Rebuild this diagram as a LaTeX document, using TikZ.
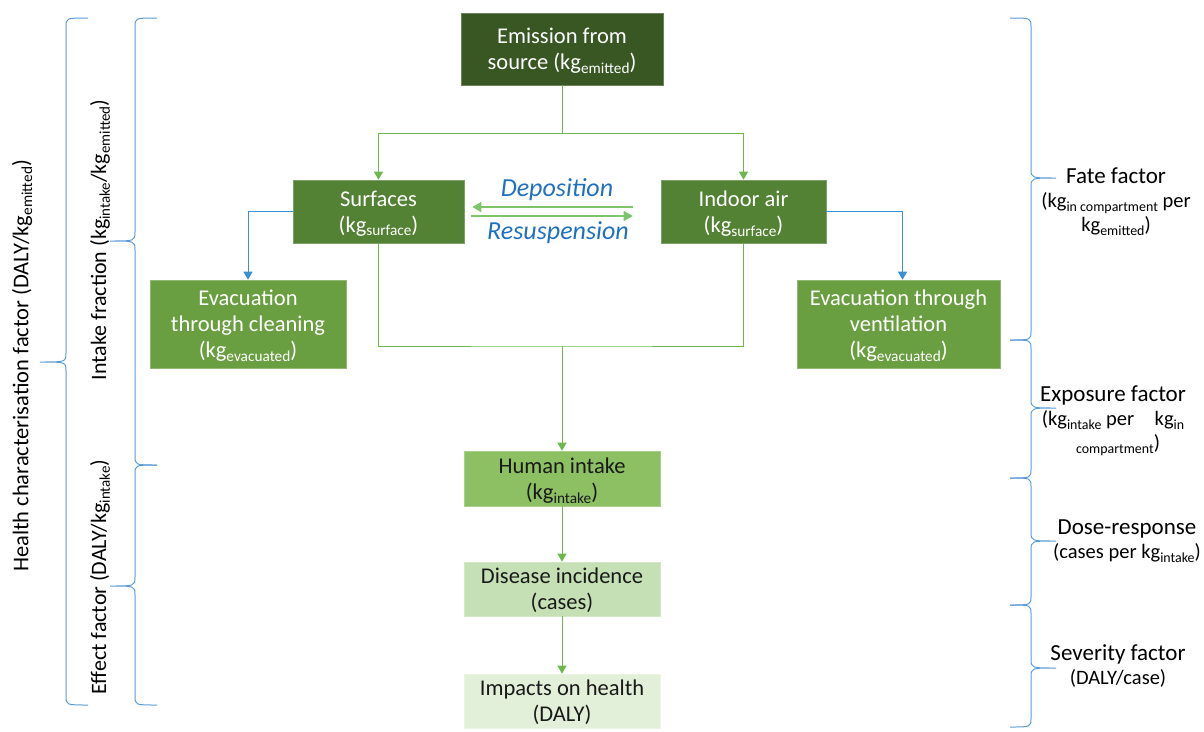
\documentclass[tikz,border=0pt]{standalone}
\usepackage{fontspec}
\setmainfont{Carlito}
\usetikzlibrary{arrows.meta}
\newcommand{\sub}[1]{\raisebox{-0.35ex}{\scalebox{0.68}{#1}}}
\definecolor{cEmis}{HTML}{385723}
\definecolor{cSurf}{HTML}{548235}
\definecolor{cEvac}{HTML}{6A9F41}
\definecolor{cHum}{HTML}{8CC063}
\definecolor{cDis}{HTML}{C5E0B4}
\definecolor{cImp}{HTML}{E2F0D9}
\definecolor{cGline}{HTML}{6DB84C}
\definecolor{cDep}{HTML}{7DC46A}
\definecolor{cBlue}{HTML}{3A90D0}
\definecolor{cBrace}{HTML}{5B9BD5}
\definecolor{cText}{HTML}{1F70C1}
\newcommand{\brc}[6]{%
  \draw[brace] (#1,#4) .. controls (#2,#4) .. (#2,#4+9) -- (#2,#5-9)
    .. controls (#2,#5) .. (#3,#5) .. controls (#2,#5) .. (#2,#5+9)
    -- (#2,#6-9) .. controls (#2,#6) .. (#1,#6);}
\begin{document}
\begin{tikzpicture}[x=1pt,y=-1pt,
  box/.style={fill=#1, draw=#1!75!white, line width=0.6pt, inner sep=0pt,
    align=center, text depth=0pt, font=\fontsize{22.5}{26}\selectfont},
  wbox/.style={box=#1, text=white},
  kbox/.style={box=#1, text=black!90},
  gline/.style={draw=cGline, line width=0.9pt},
  garrow/.style={gline, -{Triangle[width=9pt,length=8pt]}},
  barrow/.style={draw=cBlue, line width=0.9pt, -{Triangle[width=9pt,length=8pt]}},
  deparrow/.style={draw=cDep, line width=1.1pt, -{Triangle[width=10pt,length=9pt]}},
  brace/.style={draw=cBrace, line width=1pt},
  sidelab/.style={align=center, font=\fontsize{20.5}{24}\selectfont, inner sep=0pt},
  sidehead/.style={font=\fontsize{23}{25}\selectfont},
  rotlab/.style={rotate=90, font=\fontsize{22}{24}\selectfont, inner sep=0pt},
  flow/.style={text=cText, font=\fontsize{26}{28}\selectfont\itshape, inner sep=0pt}
]
\useasboundingbox (0,0) rectangle (1204,731);

% boxes
\node[wbox=cEmis, minimum width=202pt, minimum height=72pt] (emis) at (562,49)
  {Emission from\\source (kg\sub{emitted})};
\node[wbox=cSurf, minimum width=171pt, minimum height=63pt] (surf) at (378.5,211.5)
  {Surfaces\\(kg\sub{surface})};
\node[wbox=cSurf, minimum width=165pt, minimum height=63pt] (air) at (743.5,211.5)
  {Indoor air\\(kg\sub{surface})};
\node[wbox=cEvac, minimum width=196pt, minimum height=88pt] (evc) at (248,324)
  {Evacuation\\through cleaning\\(kg\sub{evacuated})};
\node[wbox=cEvac, minimum width=203pt, minimum height=88pt] (evv) at (898.5,324)
  {Evacuation through\\ventilation\\(kg\sub{evacuated})};
\node[kbox=cHum, minimum width=196pt, minimum height=55pt] (hum) at (562,478.5)
  {Human intake\\(kg\sub{intake})};
\node[kbox=cDis, minimum width=196pt, minimum height=54pt] (dis) at (562,589)
  {Disease incidence\\(cases)};
\node[kbox=cImp, minimum width=196pt, minimum height=54pt] (imp) at (562,701)
  {Impacts on health\\(DALY)};

% junctions
\coordinate (j1) at (562,133);
\coordinate (j2) at (562,346);

% connectors
\draw[gline] (emis.south) -- (j1);
\draw[garrow] (j1) -| (surf.north);
\draw[garrow] (j1) -| (air.north);
\draw[gline] (surf.south) |- (j2) -| (air.south);
\draw[garrow] (j2) -- (hum.north);
\draw[garrow] (hum.south) -- (dis.north);
\draw[garrow] (dis.south) -- (imp.north);
\draw[barrow] (surf.west) -| (evc.north);
\draw[barrow] (air.east) -| ([xshift=4pt]evv.north);

% deposition / resuspension
\draw[deparrow, shorten <=28pt, shorten >=8pt] ([yshift=4.5pt]air.west) -- ([yshift=4.5pt]surf.east);
\draw[deparrow, shorten <=7pt, shorten >=28pt] ([yshift=-4.5pt]surf.east) -- ([yshift=-4.5pt]air.west);
\node[flow] (dep) at (557,190) {Deposition};
\node[flow] (res) at (558,233) {Resuspension};

% left braces
\brc{88}{66}{40}{18}{362}{705}
\brc{157}{135}{110}{18}{241}{465}
\brc{157}{135}{110}{465}{586}{705}
\node[rotlab, font=\fontsize{22.5}{24}\selectfont] (lhealth) at (22,366) {Health characterisation factor (DALY/kg\sub{emitted})};
\node[rotlab] (lintake) at (100,240) {Intake fraction (kg\sub{intake}/kg\sub{emitted})};
\node[rotlab] (leffect) at (100,577) {Effect factor (DALY/kg\sub{intake})};

% right braces
\brc{1010}{1031}{1056}{18}{178}{340}
\brc{1010}{1031}{1056}{340}{408}{478}
\brc{1010}{1031}{1056}{478}{541}{605}
\brc{1010}{1031}{1056}{605}{668}{727}

\node[sidelab, anchor=north] (lfate) at (1116,168)
  {{\fontsize{23}{25}\selectfont Fate factor}\\(kg\sub{in compartment} per\\kg\sub{emitted})};
\node[sidelab, anchor=north] (lexpo) at (1113,386)
  {{\fontsize{23}{25}\selectfont Exposure factor}\\(kg\sub{intake} per\quad kg\sub{in}\\\hspace*{10pt}\sub{compartment})};
\node[sidelab, anchor=north] (ldose) at (1127,520)
  {{\fontsize{23}{25}\selectfont Dose-response}\\(cases per kg\sub{intake})};
\node[sidelab, anchor=north] (lsev) at (1118,644)
  {{\fontsize{23}{25}\selectfont Severity factor}\\(DALY/case)};
\end{tikzpicture}
\end{document}
